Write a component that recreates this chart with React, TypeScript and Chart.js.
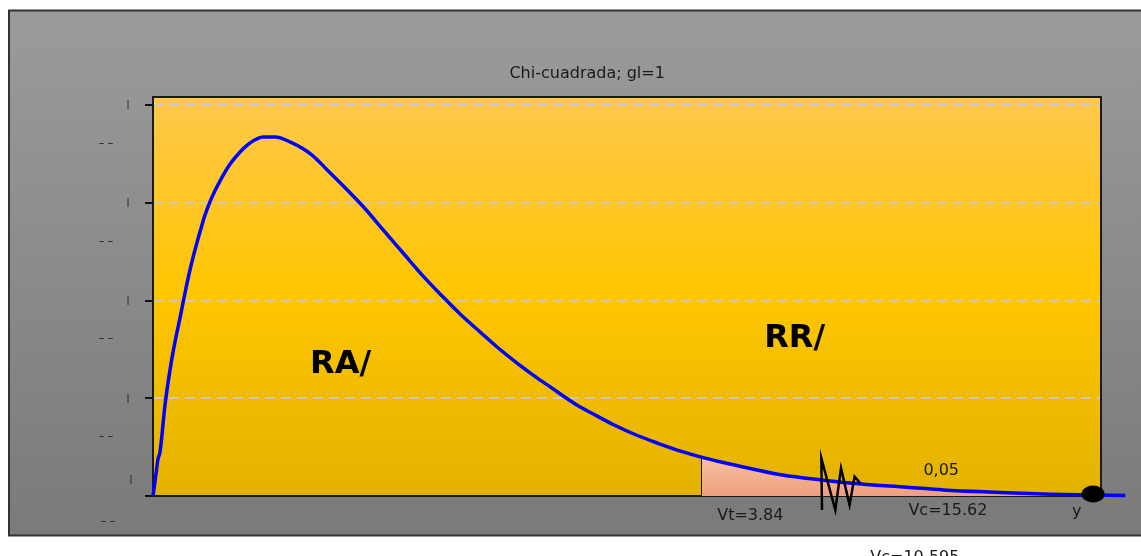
import React, { useEffect, useRef } from "react";
import { Chart, registerables } from "chart.js";

Chart.register(...registerables);

// ---- data (x in chi-square units, y in density units) ----
const curveX = [
  0, 0.007, 0.021, 0.035, 0.049, 0.084, 0.119, 0.154, 0.189, 0.224, 0.259, 0.294,
  0.329, 0.364, 0.413, 0.469, 0.54, 0.61, 0.68, 0.771, 0.855, 0.96, 1.114, 1.219,
  1.359, 1.5, 1.612, 1.752, 1.892, 2.032, 2.151, 2.291, 2.41, 2.55, 2.69, 2.782,
  2.957, 3.097, 3.23, 3.384, 3.532, 3.707, 3.84, 3.98, 4.183, 4.408, 4.681, 4.961,
  5.283, 5.536, 5.907, 6.285, 6.586, 6.811,
];
const curveY = [
  0, 0.0036, 0.0113, 0.0189, 0.0225, 0.0465, 0.0644, 0.0788, 0.091, 0.1038, 0.1156, 0.1258,
  0.135, 0.1437, 0.1529, 0.1611, 0.1698, 0.176, 0.1806, 0.1836, 0.1836, 0.1811, 0.1744, 0.1669,
  0.1567, 0.1458, 0.1361, 0.1243, 0.1125, 0.1018, 0.0931, 0.0839, 0.0762, 0.068, 0.0604, 0.0558,
  0.0471, 0.0414, 0.0363, 0.0312, 0.0271, 0.0227, 0.0199, 0.0174, 0.0141, 0.0107, 0.0082, 0.0061,
  0.0045, 0.0031, 0.0019, 0.0009, 0.0005, 0.0002,
];
const criticalValue = 3.84;
const tailEndX = 6.586;
const breakX = [4.686, 4.681, 4.779, 4.819, 4.879, 4.914, 4.954];
const breakY = [-0.0072, 0.0193, -0.0072, 0.0142, -0.0046, 0.0099, 0.0065];
const markerX = [6.584];
const markerY = [0.001];
const yTickValues = [0, 0.05, 0.1, 0.15, 0.2];
const yMajorGlyph = "|";
const yMinorGlyph = "– –";

const titleText = "Chi-cuadrada; gl=1";
const regionLabels = ["RA/", "RR/"];
const alphaLabel = "0,05";
const axisLabels = ["Vt=3.84", "Vc=15.62", "y", "Vc=10.595"];

// ---- placement of the text (data units) ----
const regionLabelPos = [
  { x: 1.1, y: 0.0629 },
  { x: 4.281, y: 0.0762 },
];
const alphaLabelPos = { x: 5.396, y: 0.0107 };
const axisLabelPos = [
  { x: 3.952, y: -0.0123 },
  { x: 5.291, y: -0.0097 },
  { x: 6.437, y: -0.0102 },
  { x: 5.024, y: -0.0338 },
];
const titlePos = { x: 3.041, y: 0.2138 };

const FONT = "'DejaVu Sans', Verdana, sans-serif";

function makeEllipse(): HTMLCanvasElement {
  const c = document.createElement("canvas");
  c.width = 24;
  c.height = 18;
  const g = c.getContext("2d")!;
  g.fillStyle = "#000";
  g.beginPath();
  g.ellipse(12, 9, 11.5, 8.5, 0, 0, Math.PI * 2);
  g.fill();
  return c;
}

const decorPlugin = {
  id: "decor",
  beforeDraw(chart: any) {
    const { ctx, chartArea: a, width, height } = chart;
    ctx.save();
    ctx.fillStyle = "#ffffff";
    ctx.fillRect(0, 0, width, height);
    const gg = ctx.createLinearGradient(0, 10, 0, 536);
    gg.addColorStop(0, "#9b9b9b");
    gg.addColorStop(1, "#7a7a7a");
    ctx.fillStyle = gg;
    ctx.fillRect(8, 10, width, 526);
    ctx.strokeStyle = "#333333";
    ctx.lineWidth = 2;
    ctx.strokeRect(9, 10.5, width + 20, 525);
    const pg = ctx.createLinearGradient(0, a.top, 0, a.bottom);
    pg.addColorStop(0, "#ffc84c");
    pg.addColorStop(0.5, "#ffc600");
    pg.addColorStop(1, "#e3b200");
    ctx.fillStyle = pg;
    ctx.fillRect(a.left, a.top, a.right - a.left, a.bottom - a.top);
    ctx.restore();
  },
  beforeDatasetsDraw(chart: any) {
    const { ctx, chartArea: a } = chart;
    ctx.save();
    ctx.strokeStyle = "#1a1a1a";
    ctx.lineWidth = 2;
    ctx.strokeRect(a.left, a.top, a.right - a.left, a.bottom - a.top);
    ctx.restore();
  },
  afterDatasetsDraw(chart: any) {
    const { ctx } = chart;
    const xs = chart.scales.x;
    const ys = chart.scales.y;
    const i = curveX.indexOf(criticalValue);
    const px = Math.round(xs.getPixelForValue(criticalValue)) + 0.5;
    ctx.save();
    ctx.strokeStyle = "#111";
    ctx.lineWidth = 1;
    ctx.beginPath();
    ctx.moveTo(px, ys.getPixelForValue(0));
    ctx.lineTo(px, ys.getPixelForValue(curveY[i]) + 1);
    ctx.stroke();
    ctx.restore();
  },
  afterDraw(chart: any) {
    const { ctx, chartArea: a } = chart;
    const xs = chart.scales.x;
    const ys = chart.scales.y;
    const P = (p: { x: number; y: number }) => [xs.getPixelForValue(p.x), ys.getPixelForValue(p.y)];
    ctx.save();
    ctx.textBaseline = "alphabetic";
    ctx.fillStyle = "#1a1a1a";
    ctx.font = `16px ${FONT}`;
    ctx.textAlign = "center";
    const [tx, ty] = P(titlePos);
    ctx.fillText(titleText, tx, ty);
    ctx.textAlign = "left";
    ctx.fillStyle = "#000";
    ctx.font = `bold 32px ${FONT}`;
    regionLabels.forEach((t, k) => {
      const [x, y] = P(regionLabelPos[k]);
      ctx.fillText(t, x, y);
    });
    ctx.fillStyle = "#1a1a1a";
    ctx.font = `16px ${FONT}`;
    {
      const [x, y] = P(alphaLabelPos);
      ctx.fillText(alphaLabel, x, y);
    }
    axisLabels.forEach((t, k) => {
      const [x, y] = P(axisLabelPos[k]);
      ctx.fillText(t, x, y);
    });
    // clipped y-axis tick labels
    ctx.fillStyle = "#111";
    ctx.textAlign = "center";
    ctx.textBaseline = "middle";
    yTickValues.forEach((v) => {
      const y = ys.getPixelForValue(v);
      const zero = v === 0;
      ctx.font = `9px ${FONT}`;
      ctx.fillText(yMajorGlyph, a.left - (zero ? 22 : 25), y + (zero ? -16 : 0));
      ctx.font = `11px ${FONT}`;
      ctx.fillText(yMinorGlyph, a.left - (zero ? 45 : 47), y + (zero ? 25 : 38));
    });
    ctx.restore();
  },
};

export default function App() {
  const ref = useRef<HTMLCanvasElement | null>(null);
  useEffect(() => {
    if (!ref.current) return;
    const curve = curveX.map((x, i) => ({ x, y: curveY[i] }));
    const tail = curve.filter((p) => p.x >= criticalValue && p.x <= tailEndX);
    const brk = breakX.map((x, i) => ({ x, y: breakY[i] }));
    const marker = markerX.map((x, i) => ({ x, y: markerY[i] }));
    const ellipse = makeEllipse();
    const chart = new Chart(ref.current, {
      type: "line",
      data: {
        datasets: [
          {
            data: curve,
            borderColor: "#0000ff",
            borderWidth: 3.5,
            pointRadius: 0,
            cubicInterpolationMode: "monotone",
            fill: false,
            clip: false as any,
            order: 0,
          },
          {
            data: tail,
            borderWidth: 0,
            borderColor: "rgba(0,0,0,0)",
            pointRadius: 0,
            cubicInterpolationMode: "monotone",
            fill: "origin",
            backgroundColor: (c: any) => {
              const { chart: ch } = c;
              const area = ch.chartArea;
              if (!area) return "#f4b090";
              const g = ch.ctx.createLinearGradient(0, ch.scales.y.getPixelForValue(0.02), 0, area.bottom);
              g.addColorStop(0, "#f7c0a4");
              g.addColorStop(1, "#ef9f7c");
              return g;
            },
            order: 1,
          },
          {
            data: brk,
            borderColor: "#000",
            borderWidth: 2.5,
            pointRadius: 0,
            fill: false,
            clip: false as any,
            borderJoinStyle: "miter",
            order: -1,
          },
          {
            data: marker,
            showLine: false,
            pointStyle: ellipse as any,
            pointRadius: 10,
            clip: false as any,
            order: -2,
          },
        ],
      },
      options: {
        animation: false,
        responsive: false,
        devicePixelRatio: 1,
        layout: { padding: { left: 145, top: 97, right: 40, bottom: 60 } },
        plugins: { legend: { display: false }, tooltip: { enabled: false }, title: { display: false } },
        scales: {
          x: { type: "linear", min: 0, max: 6.64, display: false },
          y: {
            type: "linear",
            min: 0,
            max: 0.2041,
            ticks: { display: false, stepSize: 0.05, includeBounds: false },
            grid: {
              color: (c: any) => (c.tick && c.tick.value === 0 ? "rgba(0,0,0,0)" : "#cfc8bb"),
              lineWidth: 2,
              tickColor: "#111",
              tickLength: 8,
              tickWidth: 2,
              drawTicks: true,
            },
            border: { display: false, dash: [10, 6] },
          },
        },
      },
      plugins: [decorPlugin],
    });
    return () => chart.destroy();
  }, []);
  return (
    <div style={{ position: "fixed", left: 0, top: 0, width: 1141, height: 556, overflow: "hidden" }}>
      <canvas ref={ref} width={1141} height={556} style={{ display: "block" }} />
    </div>
  );
}
